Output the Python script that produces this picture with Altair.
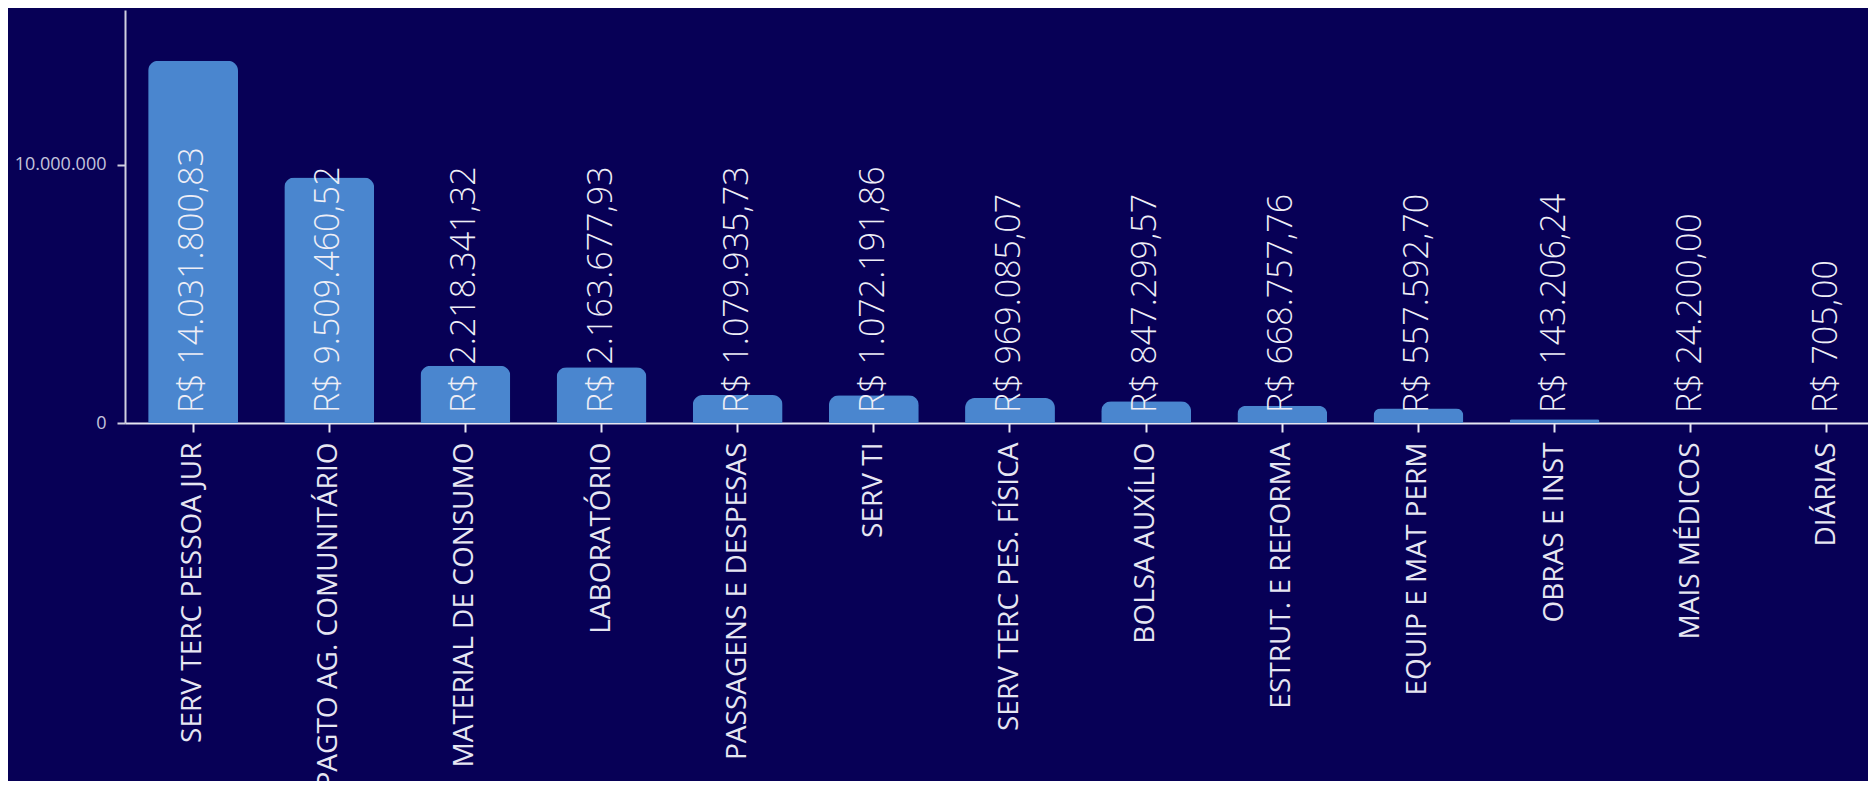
import altair as alt
import pandas as pd

categories = [
    "SERV TERC PESSOA JUR",
    "PAGTO AG. COMUNITÁRIO",
    "MATERIAL DE CONSUMO",
    "LABORATÓRIO",
    "PASSAGENS E DESPESAS",
    "SERV TI",
    "SERV TERC PES. FÍSICA",
    "BOLSA AUXÍLIO",
    "ESTRUT. E REFORMA",
    "EQUIP E MAT PERM",
    "OBRAS E INST",
    "MAIS MÉDICOS",
    "DIÁRIAS",
]
values = [
    14031800.83,
    9509460.52,
    2218341.32,
    2163677.93,
    1079935.73,
    1072191.86,
    969085.07,
    847299.57,
    668757.76,
    557592.70,
    143206.24,
    24200.00,
    705.00,
]
y_ticks = [0, 10000000]


def brl(v):
    s = f"{v:,.2f}"
    s = s.replace(",", "X").replace(".", ",").replace("X", ".")
    return "R$ " + s


df = pd.DataFrame({
    "cat": categories,
    "val": values,
    "label": [brl(v) for v in values],
})

BG = "#070056"
BAR = "#4a86cf"
FONT = "Open Sans"

x_enc = alt.X(
    "cat:N",
    sort=categories,
    title=None,
    scale=alt.Scale(range=[0, 1770], paddingInner=0.34, paddingOuter=0.17),
    axis=alt.Axis(
        labelAngle=-90,
        labelFont=FONT,
        labelFontSize=28,
        labelColor="#e6e6f2",
        labelPadding=10,
        labelLimit=600,
        tickSize=9,
        tickColor="#e6e6f2",
        domainColor="#e6e6f2",
        domainWidth=2,
        tickWidth=2,
    ),
)

bars = alt.Chart(df).mark_bar(
    color=BAR,
    cornerRadiusTopLeft=10,
    cornerRadiusTopRight=10,
).encode(
    x=x_enc,
    y=alt.Y(
        "val:Q",
        title=None,
        scale=alt.Scale(domain=[0, 16000000], nice=False),
        axis=alt.Axis(
            values=y_ticks,
            grid=False,
            labelExpr="replace(format(datum.value, ','), /,/g, '.')",
            labelFont=FONT,
            labelFontSize=18,
            labelColor="#c4c4dc",
            labelPadding=11,
            tickSize=8,
            tickColor="#d0d0e0",
            domainColor="#d0d0e0",
            domainWidth=2,
            tickWidth=2,
        ),
    ),
)

texts = alt.Chart(df).mark_text(
    angle=270,
    align="left",
    baseline="middle",
    dx=10,
    font=FONT,
    fontSize=34,
    fontWeight=300,
    color="#eeeef6",
).encode(
    x=alt.X("cat:N", sort=categories),
    y=alt.datum(0),
    text="label:N",
)

chart = alt.layer(bars, texts).properties(
    width=1743,
    height=413,
    background=BG,
    padding={"left": 117, "top": 2, "right": 0, "bottom": 358},
    autosize=alt.AutoSizeParams(type="none"),
).configure_view(stroke=None)

chart.save("out.html", embed_options={"renderer": "svg", "actions": False})
